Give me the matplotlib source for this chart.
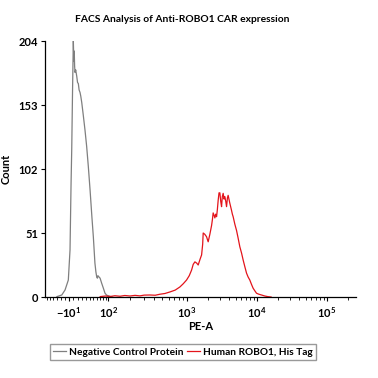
import numpy as np
import matplotlib
matplotlib.use('Agg')
import matplotlib.pyplot as plt
from matplotlib.scale import FuncScale

plt.rcParams['font.family'] = ['Lato', 'DejaVu Sans']
plt.rcParams['font.weight'] = 'bold'
plt.rcParams['mathtext.fontset'] = 'custom'
plt.rcParams['mathtext.bf'] = 'Lato:bold'
plt.rcParams['mathtext.rm'] = 'Lato:bold'

# histogram outlines (PE-A value, count)
neg_pe = [-40, -27.5, -19.5, -11.7, -7.7, -5.3, -3.7, -1.8, 0, 1.2, 2.1, 3.0, 3.9, 5.5, 7.9,
          9.8, 11.7, 13.5, 15.7, 17.5, 19.8, 23.5, 27.8, 32, 36.3, 41, 45.9, 50, 54.6, 57.5,
          60, 62, 63.7, 67, 70.7, 76, 82, 88, 94, 100, 107, 115]
neg_count = [0.3, 1.6, 5.6, 13.5, 37.5, 90, 118, 165, 204, 188, 196, 184, 179, 181, 176,
             171, 170, 165, 163, 160, 155, 145, 133, 120, 104, 85, 64, 48, 27, 20,
             16, 15, 17, 16, 15, 11, 7, 3, 1.5, 1, 0.5, 0]

ctrl_pe = [71, 90, 107, 125, 147, 170, 198, 230, 265, 300, 353, 410, 468, 540, 620, 720,
           821, 900, 989, 1080, 1167, 1230, 1301, 1380, 1450, 1540, 1622, 1680, 1710, 1800,
           1911, 1960, 2015, 2130, 2254, 2320, 2375, 2450, 2512, 2580, 2657, 2730, 2800,
           2880, 2961, 3050, 3131, 3210, 3301, 3400, 3490, 3600, 3691, 3800, 3890, 4100,
           4350, 4470, 4586, 4850, 5129, 5400, 5716, 6050, 6373, 6750, 7127, 7500, 7943,
           8400, 8854, 9350, 9900, 10700, 11670, 13000, 14350, 16000]
ctrl_count = [0.3, 0.8, 0.4, 1.0, 0.6, 1.2, 0.8, 1.3, 0.9, 1.5, 1.6, 1.4, 2.2, 2.8, 4, 5.5,
              8, 10.5, 13.5, 17, 21.5, 26, 28, 27, 25.5, 30, 33.5, 42, 51, 50,
              48, 46, 44, 50, 57, 62, 67, 65, 63, 66, 64, 70, 77,
              83, 83, 76, 72, 80, 82.6, 78, 80, 76, 72, 79, 81, 75,
              69, 66, 64, 58, 53, 47, 40, 35, 29.5, 24, 19, 16, 13.5,
              10, 7, 5, 3, 2.2, 1.6, 0.8, 0.3, 0]

tick_vals = [-10, 100, 1000, 10000, 100000]
tick_labels = [r'$\mathbf{-10^{1}}$', r'$\mathbf{10^{2}}$', r'$\mathbf{10^{3}}$',
               r'$\mathbf{10^{4}}$', r'$\mathbf{10^{5}}$']
count_ticks = [0, 51, 102, 153, 204]

# biexponential-like display: arcsinh, then stretched so decades sit like the cytometer's
W = 70.0
U_ANCH = np.array([-4.0, -0.1424, 1.1510, 3.3527, 5.6550, 7.9576, 14.0])
P_ANCH = np.array([69 - 3.8576 * 30.15, 69, 108, 187, 257, 327, 327 + 6.0424 * 30.4])


def fwd(x):
    return np.interp(np.arcsinh(np.asarray(x, dtype=float) / W), U_ANCH, P_ANCH)


def inv(p):
    return W * np.sinh(np.interp(np.asarray(p, dtype=float), P_ANCH, U_ANCH))


fig = plt.figure(figsize=(3.78, 3.78), dpi=100)
ax = fig.add_axes([45 / 378, 81 / 378, 311 / 378, 256 / 378])
ax.set_xscale(FuncScale(ax, (fwd, inv)))

ax.plot(neg_pe, neg_count, color='#7f7f7f', lw=0.9, label='Negative Control Protein')
ax.plot(ctrl_pe, ctrl_count, color='#e3141b', lw=0.9, label='Human ROBO1, His Tag')

ax.set_xlim(-76, 262144)
ax.set_ylim(0, 204)
ax.set_xticks(tick_vals)
ax.set_xticklabels(tick_labels, fontsize=8)
minor = [v for v in range(-70, 100, 10) if v != -10]
for dec in [100, 1000, 10000, 100000]:
    minor += [m * dec for m in range(2, 10) if m * dec < 262144]
ax.set_xticks(minor, minor=True)
ax.set_yticks(count_ticks)
ax.set_yticklabels([str(v) for v in count_ticks], fontsize=8)
ax.tick_params(axis='both', which='major', length=3, width=0.8, pad=2)
ax.tick_params(axis='x', which='minor', length=2, width=0.6)
ax.tick_params(axis='x', pad=3)

for s in ['top', 'right']:
    ax.spines[s].set_visible(False)
for s in ['left', 'bottom']:
    ax.spines[s].set_linewidth(0.9)

fig.text(182 / 378, 1 - 20 / 378, 'FACS Analysis of Anti-ROBO1 CAR expression',
         fontsize=7.4, fontweight='bold', ha='center', va='center')
ax.set_xlabel('PE-A', fontsize=8, fontweight='bold', labelpad=1)
ax.set_ylabel('Count', fontsize=8, fontweight='bold', labelpad=5)

fig.legend(loc='center', bbox_to_anchor=(183 / 378, 1 - 352 / 378), ncol=2, fontsize=7.3,
           frameon=True, fancybox=False, edgecolor='#808080', handlelength=1.3,
           handletextpad=0.3, columnspacing=0.3, borderpad=0.35, borderaxespad=0)

fig.savefig('out.png', dpi=100)
